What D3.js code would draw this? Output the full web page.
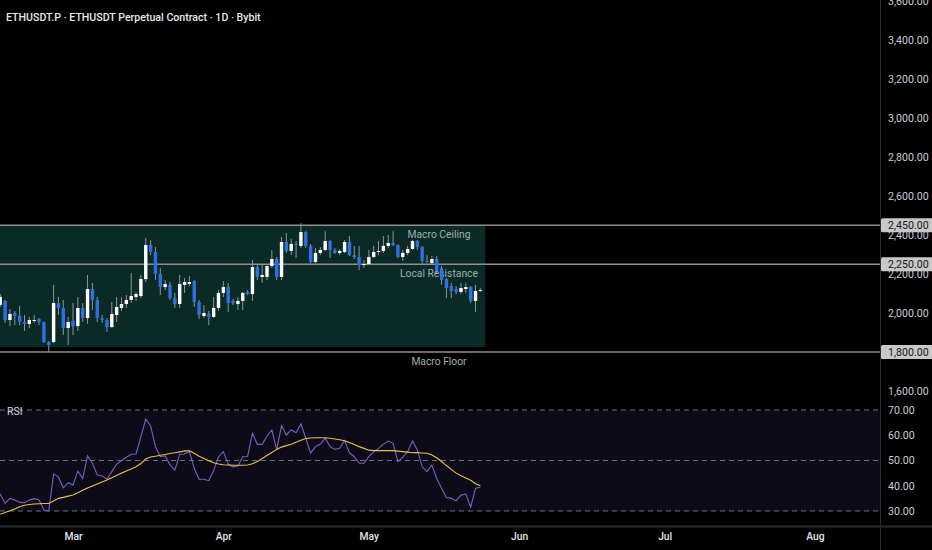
<!DOCTYPE html>
<html><head><meta charset="utf-8">
<script src="https://cdn.jsdelivr.net/npm/d3@7"></script>
<style>
html,body{margin:0;padding:0;background:#000;overflow:hidden}
svg{display:block}
text{font-family:Roboto,"Noto Sans",sans-serif}
</style></head><body>
<svg id="c" width="932" height="550"></svg>
<script>
const titleText = "ETHUSDT.P · ETHUSDT Perpetual Contract · 1D · Bybit";
const firstDay = "2025-02-14";
const open  = [2041,2062,1964,2000,1985,1954,1944,1959,1969,1954,1851,1851,2051,2026,1923,1959,1933,2026,1974,2123,2067,1974,1964,1928,1990,2026,2046,2067,2082,2087,2174,2349,2313,2200,2133,2144,2077,2046,2144,2149,2164,2056,1985,1995,1980,2026,2103,2133,2062,2046,2062,2108,2097,2236,2185,2185,2241,2277,2185,2364,2318,2354,2344,2415,2344,2262,2308,2323,2369,2323,2308,2313,2364,2297,2287,2246,2251,2287,2313,2318,2344,2359,2349,2287,2308,2328,2369,2338,2267,2256,2277,2231,2174,2138,2123,2108,2123,2133,2062,2113];
const high  = [2097,2067,2021,2010,2036,1990,1980,1990,1974,1956,1856,2144,2082,2067,1980,2051,2082,2051,2195,2154,2082,1990,1974,2056,2082,2082,2092,2205,2108,2195,2385,2374,2338,2231,2169,2159,2103,2195,2180,2190,2169,2067,2041,2010,2082,2118,2164,2154,2072,2082,2108,2118,2272,2246,2246,2246,2323,2287,2390,2410,2380,2369,2461,2420,2354,2333,2338,2420,2374,2333,2328,2374,2395,2344,2344,2272,2323,2344,2369,2395,2400,2420,2352,2323,2344,2374,2374,2344,2297,2292,2292,2241,2180,2154,2138,2154,2154,2138,2144,2128];
const low   = [2031,1949,1933,1938,1938,1908,1923,1949,1938,1846,1800,1846,1990,1887,1836,1887,1908,1954,1944,2015,1954,1949,1903,1923,1954,2010,2026,2051,2062,2077,2159,2297,2169,2092,2118,2067,2026,2026,2103,2138,2031,1969,1974,1938,1974,2010,2082,2005,2041,2015,2015,2092,2062,2169,2154,2169,2231,2169,2169,2308,2297,2282,2333,2333,2256,2256,2297,2318,2282,2303,2297,2308,2292,2277,2220,2231,2246,2282,2297,2308,2333,2344,2282,2267,2297,2323,2323,2256,2256,2246,2205,2144,2077,2077,2097,2097,2103,2051,2005,2108];
const close = [2082,1964,1995,1985,1954,1944,1964,1964,1954,1851,1836,2051,2026,1923,1954,1933,2026,1974,2123,2067,1974,1964,1928,1995,2031,2046,2067,2087,2097,2174,2349,2313,2200,2133,2149,2077,2046,2149,2159,2159,2056,1990,2000,1980,2026,2103,2133,2051,2051,2062,2103,2097,2236,2185,2195,2241,2277,2185,2364,2318,2354,2349,2415,2344,2262,2308,2323,2369,2323,2308,2318,2364,2297,2287,2246,2251,2287,2313,2318,2344,2359,2349,2287,2308,2328,2369,2338,2267,2262,2277,2215,2169,2128,2113,2108,2128,2133,2062,2113,2118];
const rsi   = [36.7,33.0,35.0,34.4,33.4,33.3,34.4,34.9,34.4,30.4,30.1,44.7,43.4,39.2,41.2,40.3,45.8,42.9,51.8,48.9,44.3,43.9,42.6,45.6,48.6,49.9,51.3,52.5,52.6,59.4,66.4,63.7,55.5,51.5,51.8,48.2,46.2,52.5,52.6,53.5,46.9,42.6,42.6,42.0,46.0,51.5,53.5,48.6,47.5,47.8,51.5,51.6,60.8,56.4,56.4,59.7,62.1,54.2,63.8,60.1,62.1,61.0,64.5,58.8,52.9,55.5,56.5,58.8,55.5,54.4,54.8,57.9,53.1,51.5,48.9,48.9,51.5,53.5,54.8,56.5,57.7,56.8,49.5,51.3,53.5,57.7,54.2,47.5,45.6,48.2,42.9,39.0,35.3,35.0,34.0,36.3,36.7,31.5,39.0,39.4];
const rsiMA = [28.7,29.4,30.1,30.8,31.7,32.3,32.6,32.8,32.9,33.0,33.0,34.0,35.0,35.4,35.9,36.3,37.2,38.2,39.1,39.9,40.7,41.5,42.3,43.2,44.1,45.0,45.8,46.6,47.5,48.8,50.6,51.4,51.7,52.1,52.4,52.8,53.1,53.4,53.8,53.8,52.9,51.7,50.8,49.9,49.1,48.6,48.3,48.2,48.1,48.1,48.1,48.2,48.7,49.6,50.8,52.0,53.2,54.4,55.3,55.9,56.4,57.2,58.0,58.7,58.9,59.0,59.0,59.0,58.8,58.5,58.2,57.8,57.1,56.3,55.5,54.8,54.1,53.9,53.9,53.9,53.9,53.9,53.7,53.5,53.3,53.1,53.1,53.0,52.9,52.2,51.1,49.6,48.0,46.5,45.0,44.0,43.1,42.2,40.8,40.0];
const priceTicks = [1600,2000,2200,2400,2600,2800,3000,3200,3400,3600];
const rsiTicks = [30,40,50,60,70];
const rsiGuides = [30,50,70];
const monthTicks = ["2025-03-01","2025-04-01","2025-05-01","2025-06-01","2025-07-01","2025-08-01"];
const levelPrices = [2450,2250,1800];
const levelNames = ["Macro Ceiling","Local Resistance","Macro Floor"];
const zoneTop = 2450, zoneBottom = 1825;
const zoneStart = "2025-02-01", zoneEnd = "2025-05-25";

const parse = d3.timeParse("%Y-%m-%d");
const day0 = parse(firstDay);
const candles = open.map((o,i)=>({date:d3.timeDay.offset(day0,i),o,h:high[i],l:low[i],c:close[i],r:rsi[i],m:rsiMA[i]}));

const W=932,H=550,AX=880;
const FONT = "Roboto,'Noto Sans',sans-serif";
const x = d3.scaleTime().domain([parse("2025-03-01"),parse("2025-08-01")]).range([73,815]);
const y = d3.scaleLinear().domain([1800,3600]).range([352,1]);
const yr = d3.scaleLinear().domain([30,70]).range([511,410]);

const svg = d3.select("#c");
svg.append("rect").attr("width",W).attr("height",H).attr("fill","#000");
const defs = svg.append("defs");
defs.append("clipPath").attr("id","pc").append("rect").attr("x",0).attr("y",0).attr("width",AX).attr("height",372);
defs.append("clipPath").attr("id","rc").append("rect").attr("x",0).attr("y",395).attr("width",AX).attr("height",130);

// price pane
const pp = svg.append("g").attr("clip-path","url(#pc)");
pp.append("rect").attr("x",x(parse(zoneStart))).attr("y",y(zoneTop))
  .attr("width",x(parse(zoneEnd))-x(parse(zoneStart))).attr("height",y(zoneBottom)-y(zoneTop))
  .attr("fill","#0a2a26");
pp.selectAll("line.lvl").data(levelPrices).join("line").attr("class","lvl")
  .attr("x1",0).attr("x2",AX).attr("y1",d=>y(d)).attr("y2",d=>y(d))
  .attr("stroke","#8f8f8f").attr("stroke-width",1.5);
pp.selectAll("text.lvl").data(levelPrices).join("text").attr("class","lvl")
  .attr("x",439).attr("y",d=>y(d)+13).attr("text-anchor","middle")
  .attr("font-size",10.3).attr("fill","#9fb0ae").text((d,i)=>levelNames[i]);
const bw=3.4;
const cg = pp.append("g");
cg.selectAll("line.w").data(candles).join("line").attr("class","w")
  .attr("x1",d=>x(d.date)).attr("x2",d=>x(d.date)).attr("y1",d=>y(d.h)).attr("y2",d=>y(d.l))
  .attr("stroke","#8e959c").attr("stroke-width",1);
cg.selectAll("rect.b").data(candles).join("rect").attr("class","b")
  .attr("x",d=>x(d.date)-bw/2).attr("width",bw)
  .attr("y",d=>y(Math.max(d.o,d.c))).attr("height",d=>Math.max(1,Math.abs(y(d.o)-y(d.c))))
  .attr("fill",d=>d.c>=d.o?"#ffffff":"#2e6fe3");

// RSI pane
const rp = svg.append("g").attr("clip-path","url(#rc)");
rp.append("rect").attr("x",0).attr("width",AX).attr("y",yr(70)).attr("height",yr(30)-yr(70)).attr("fill","#0e0b19");
rp.selectAll("line.g").data(rsiGuides).join("line").attr("class","g")
  .attr("x1",0).attr("x2",AX).attr("y1",d=>yr(d)).attr("y2",d=>yr(d))
  .attr("stroke","#6f6f78").attr("stroke-width",1).attr("stroke-dasharray","5,4");
rp.append("path").datum(candles).attr("fill","none").attr("stroke","#7b5fc6").attr("stroke-width",1.1)
  .attr("d",d3.line().x(d=>x(d.date)).y(d=>yr(d.r)));
rp.append("path").datum(candles).attr("fill","none").attr("stroke","#e2c34a").attr("stroke-width",1.1)
  .attr("d",d3.line().x(d=>x(d.date)).y(d=>yr(d.m)));
svg.append("text").attr("x",7).attr("y",415).attr("font-size",10.5).attr("fill","#d1d4dc").text("RSI");

// separators
svg.append("line").attr("x1",AX+0.5).attr("x2",AX+0.5).attr("y1",0).attr("y2",H).attr("stroke","#2b2b2b").attr("stroke-width",1);
svg.append("line").attr("x1",0).attr("x2",W).attr("y1",526.5).attr("y2",526.5).attr("stroke","#2b2b2b").attr("stroke-width",2);

// axes
const fmt = d3.format(",.2f");
const pa = svg.append("g").attr("transform",`translate(${AX},0)`)
  .call(d3.axisRight(y).tickValues(priceTicks).tickFormat(fmt).tickSize(0).tickPadding(8));
const ra = svg.append("g").attr("transform",`translate(${AX},0)`)
  .call(d3.axisRight(yr).tickValues(rsiTicks).tickFormat(fmt).tickSize(0).tickPadding(8));
[pa,ra].forEach(g=>{g.select(".domain").remove();g.selectAll("text").attr("fill","#c9ccd3").attr("font-size",10.6).attr("font-family",FONT);});
const ta = svg.append("g").attr("transform","translate(0,527)")
  .call(d3.axisBottom(x).tickValues(monthTicks.map(parse)).tickFormat(d3.timeFormat("%b")).tickSize(0).tickPadding(6));
ta.select(".domain").remove();
ta.selectAll("text").attr("fill","#e0e3ea").attr("font-size",10.3).attr("font-weight",500).attr("font-family",FONT);

// price labels
const bl = svg.append("g");
bl.selectAll("rect").data(levelPrices).join("rect")
  .attr("x",AX+1).attr("y",d=>y(d)-7).attr("width",W-AX).attr("height",14).attr("rx",1.5).attr("fill","#c8c8c8");
bl.selectAll("text").data(levelPrices).join("text")
  .attr("x",AX+8).attr("y",d=>y(d)+3.8).attr("font-size",10.6).attr("fill","#141414").text(d=>fmt(d));

// title
svg.append("text").attr("x",6).attr("y",20.5).attr("font-size",10.6).attr("font-weight",500).attr("fill","#e8e8e8").text(titleText);
</script>
</body></html>
